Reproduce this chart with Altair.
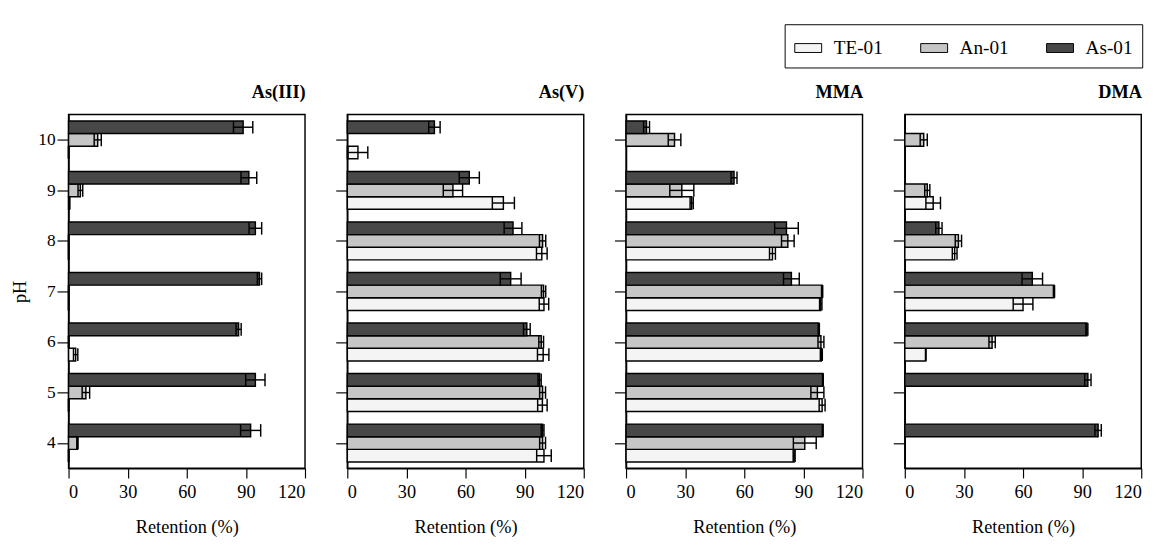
import altair as alt
import pandas as pd

ph = [4, 5, 6, 7, 8, 9, 10]
series = ["TE-01", "An-01", "As-01"]
panels = ["As(III)", "As(V)", "MMA", "DMA"]
colors = ["#f4f4f4", "#c6c6c6", "#484848"]
x_ticks = [0, 15, 30, 45, 60, 75, 90, 105, 120]

# values ordered pH 4..10 ; None = no bar
as3_te = [0, 0, 3.6, 0, 0, 0.5, 0]
as3_te_e = [0, 0, 1.1, 0, 0, 0, 0]
as3_an = [4.5, 8.8, 0, 0, 0, 6.0, 14.8]
as3_an_e = [0.3, 1.9, 0, 0, 0, 1.2, 1.8]
as3_as = [92.4, 94.8, 86.3, 96.9, 94.8, 91.5, 88.6]
as3_as_e = [5.1, 4.9, 1.3, 1.1, 3.2, 4.0, 4.9]

as5_te = [99.8, 99.0, 99.4, 99.8, 98.7, 79.2, 5.4]
as5_te_e = [3.7, 2.4, 2.9, 2.4, 2.7, 5.6, 5.0]
as5_an = [99.1, 99.1, 98.4, 99.6, 99.1, 53.6, None]
as5_an_e = [1.5, 1.5, 1.2, 1.1, 1.6, 4.9, None]
as5_as = [99.1, 97.6, 91.1, 82.9, 84.1, 61.9, 44.2]
as5_as_e = [0.7, 0.8, 1.7, 5.3, 4.5, 5.1, 2.9]

mma_te = [85.3, 99.5, 99.1, 98.8, 74.3, 33.3, None]
mma_te_e = [0.5, 1.5, 0.5, 0.6, 1.5, 0.8, None]
mma_an = [90.7, 97.1, 98.9, 99.5, 82.1, 28.3, 24.6]
mma_an_e = [5.8, 3.3, 1.5, 0.3, 3.2, 6.1, 3.2]
mma_as = [99.8, 99.9, 97.8, 83.9, 81.4, 54.8, 10.4]
mma_as_e = [0.2, 0.2, 0.3, 4.0, 6.0, 1.5, 1.5]

dma_te = [None, None, 10.6, 60.0, 25.3, 14.4, None]
dma_te_e = [None, None, 0.1, 5.0, 1.2, 3.7, None]
dma_an = [None, None, 44.3, 75.7, 27.2, 11.4, 9.6]
dma_an_e = [None, None, 1.6, 0.3, 1.6, 1.3, 1.8]
dma_as = [98.1, 92.9, 92.4, 64.7, 17.3, None, None]
dma_as_e = [1.6, 1.6, 0.5, 5.2, 1.6, None, None]

table = {
    "As(III)": [(as3_te, as3_te_e), (as3_an, as3_an_e), (as3_as, as3_as_e)],
    "As(V)": [(as5_te, as5_te_e), (as5_an, as5_an_e), (as5_as, as5_as_e)],
    "MMA": [(mma_te, mma_te_e), (mma_an, mma_an_e), (mma_as, mma_as_e)],
    "DMA": [(dma_te, dma_te_e), (dma_an, dma_an_e), (dma_as, dma_as_e)],
}

offsets = {"TE-01": -0.25, "An-01": 0.0, "As-01": 0.25}
rows = []
for p in panels:
    for s, (vals, errs) in zip(series, table[p]):
        for h, v, e in zip(ph, vals, errs):
            if v is None:
                continue
            rows.append({"panel": p, "series": s, "pH": h, "value": v, "err": e or 0,
                         "off": offsets[s]})
df = pd.DataFrame(rows)

FONT = "Liberation Serif"
color = alt.Color(
    "series:N",
    scale=alt.Scale(domain=series, range=colors),
    legend=alt.Legend(
        title=None, orient="none", direction="horizontal",
        legendX=745, legendY=-94,
        strokeColor="black", padding=10,
        symbolType="M-1,-0.33H1V0.33H-1Z", symbolSize=784,
        symbolStrokeColor="black", symbolStrokeWidth=1, symbolOpacity=1,
        labelFont=FONT, labelFontSize=20, labelColor="black",
        columnPadding=36, labelOffset=12,
    ),
)

axis_style = dict(labelFont=FONT, titleFont=FONT, titleFontSize=19,
                  labelColor="black", titleColor="black", titleFontWeight="normal",
                  domainColor="black", tickColor="black", domainWidth=1.5, tickWidth=1.2,
                  grid=False)


def panel(name, first):
    base = alt.Chart(df).transform_filter(alt.datum.panel == name).transform_calculate(
        yc="datum.pH + datum.off",
        y0="datum.pH + datum.off - 0.125",
        y1="datum.pH + datum.off + 0.125",
        lo="max(0, datum.value - datum.err)",
        hi="datum.value + datum.err",
        zero="0",
    )
    xscale = alt.Scale(domain=[0, 120], nice=False, zero=True)
    yscale = alt.Scale(domain=[3.5, 10.5], nice=False, zero=False)
    xaxis = alt.Axis(values=x_ticks, title="Retention (%)", format="d",
                     labelExpr="datum.value % 30 === 0 ? datum.label : ''",
                     tickSize={"condition": {"test": "datum.value % 30 === 0", "value": 10},
                               "value": 5},
                     labelFontSize=19, labelPadding=5, titlePadding=18, **axis_style)
    yaxis = alt.Axis(values=ph, tickSize=12, labels=first, format="d",
                     title="pH" if first else None, labelPadding=2, titlePadding=9,
                     labelFontSize=18, **axis_style)
    bars = base.mark_rect(stroke="black", strokeWidth=1.5).encode(
        x=alt.X("zero:Q", scale=xscale, axis=xaxis),
        x2="value:Q",
        y=alt.Y("y0:Q", scale=yscale, axis=yaxis),
        y2="y1:Q",
        color=color,
    )
    err = base.mark_rule(color="black", strokeWidth=1.5).encode(
        x="lo:Q", x2="hi:Q", y="yc:Q")
    cap_lo = base.mark_rule(color="black", strokeWidth=1.5).encode(
        x="lo:Q", y="y0:Q", y2="y1:Q")
    cap_hi = base.mark_rule(color="black", strokeWidth=1.5).encode(
        x="hi:Q", y="y0:Q", y2="y1:Q")
    return alt.layer(bars, err, cap_lo, cap_hi).properties(
        width=246, height=368,
        title=alt.TitleParams(name, anchor="end", font=FONT, fontSize=19,
                              fontWeight="bold", offset=13, color="black"),
    )


chart = alt.hconcat(*[panel(p, i == 0) for i, p in enumerate(panels)], spacing=28,
                    background="white",
                    padding={"top": 5, "left": 2, "right": 5, "bottom": 0}).configure_view(
    stroke="black", strokeWidth=1.5
)

chart.save("out.html", embed_options={"renderer": "svg", "actions": False})
